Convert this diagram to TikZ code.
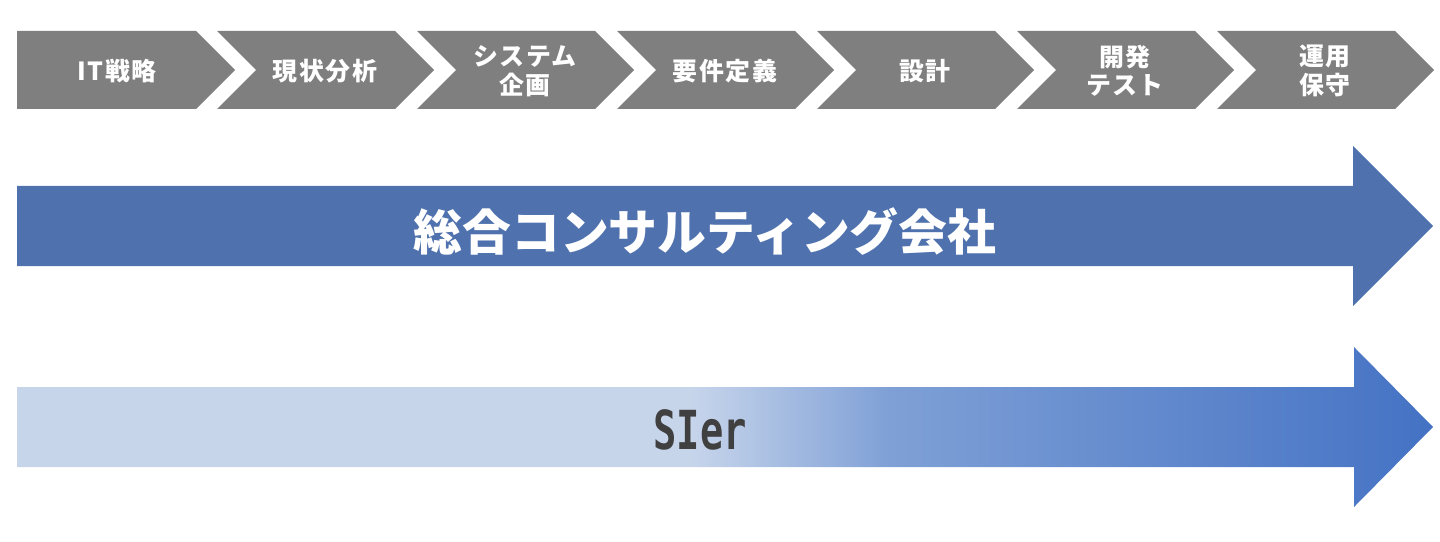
\documentclass[tikz,border=0pt]{standalone}
\usepackage{fontspec}
\newfontfamily\jp{Noto Sans CJK JP}
\newfontfamily\jpsp{Noto Sans CJK JP}[LetterSpace=6]
\newfontfamily\sierfont{DejaVu Sans Mono}
\definecolor{chevgray}{RGB}{127,127,127}
\definecolor{consblue}{RGB}{79,114,174}
\definecolor{sierlight}{RGB}{199,213,235}
\definecolor{siermid}{RGB}{127,160,214}
\definecolor{sierdark}{RGB}{68,114,196}
\definecolor{siertext}{RGB}{64,64,64}
\pgfdeclarehorizontalshading{siershade}{100bp}{color(0bp)=(sierlight); color(48.8bp)=(sierlight); color(55.8bp)=(siermid); color(75bp)=(sierdark); color(100bp)=(sierdark)}
\tikzset{
  chev/.style={fill=chevgray, draw=none},
  chevtext/.style={text=white, font=\jpsp\bfseries\fontsize{25}{28.5}\selectfont, align=center, inner sep=0pt},
}
\begin{document}
\begin{tikzpicture}[x=1bp, y=-1bp]
\useasboundingbox (0,0) rectangle (1440,542);
% chevron row
\fill[chev] (17,31) -- (196,31) -- (235,70) -- (196,109) -- (17,109) -- cycle;
\foreach \k in {1,...,6}{
  \pgfmathsetmacro{\xo}{17+200*\k}
  \fill[chev] (\xo,31) -- (\xo+178,31) -- (\xo+217,70) -- (\xo+178,109) -- (\xo,109) -- (\xo+39,70) -- cycle;
}
\node[chevtext] (c1) at (117,71) {IT戦略};
\node[chevtext] (c2) at (325,71) {現状分析};
\node[chevtext] (c3) at (525,71) {システム\\企画};
\node[chevtext] (c4) at (725,71) {要件定義};
\node[chevtext] (c5) at (925,71) {設計};
\node[chevtext] (c6) at (1125,71) {開発\\テスト};
\node[chevtext] (c7) at (1325,71) {運用\\保守};
% consulting arrow
\fill[consblue] (17,186) -- (1353,186) -- (1353,146) -- (1433,226) -- (1353,306) -- (1353,266) -- (17,266) -- cycle;
\node[text=white, font=\jp\bfseries\fontsize{49}{52}\selectfont, inner sep=0pt] (cons) at (705,232) {総合コンサルティング会社};
% SIer arrow
\shade[shading=siershade] (17,387) -- (1354,387) -- (1354,347) -- (1433,427) -- (1354,507) -- (1354,467) -- (17,467) -- cycle;
\node[text=siertext, font=\sierfont\bfseries\fontsize{54}{56}\selectfont, xscale=0.72, inner sep=0pt] (sier) at (700,430) {SIer};
\end{tikzpicture}
\end{document}
